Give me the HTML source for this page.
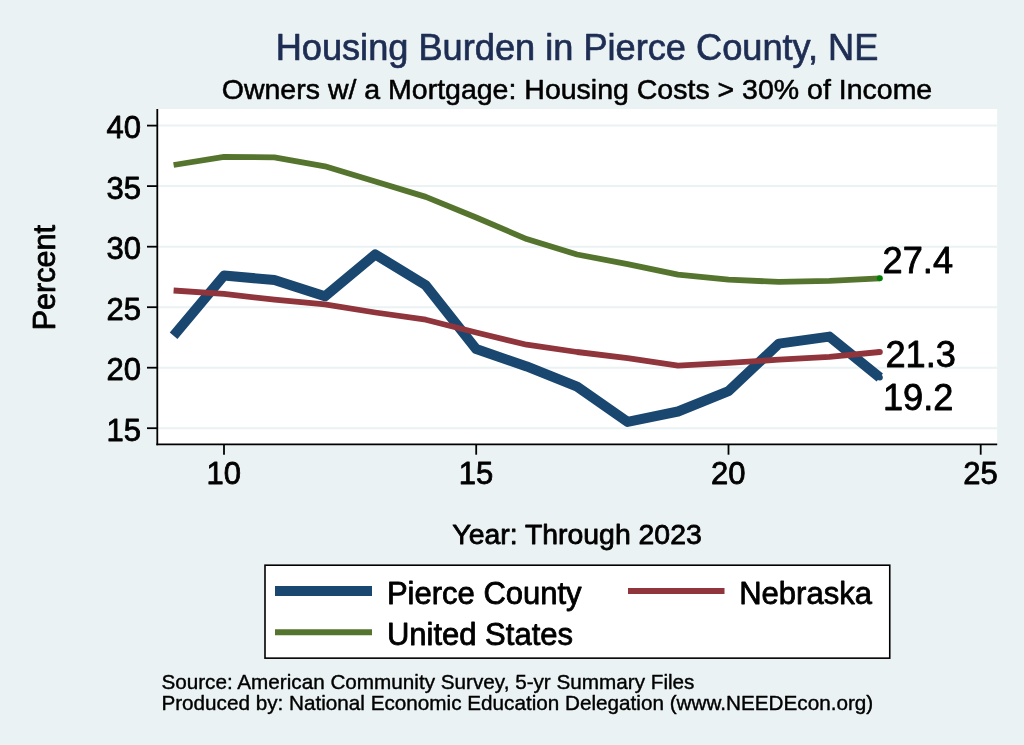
<!DOCTYPE html>
<html lang="en">
<head>
<meta charset="utf-8">
<title>Housing Burden in Pierce County, NE</title>
<style>
html,body{margin:0;padding:0;background:#eaf2f3;}
body{width:1024px;height:745px;overflow:hidden;}
svg{display:block;}
text{font-family:"Liberation Sans",Arial,Helvetica,sans-serif;stroke-linejoin:round;}
</style>
</head>
<body>
<svg width="1024" height="745" viewBox="0 0 1024 745">
<rect x="0" y="0" width="1024" height="745" fill="#eaf2f3"/>
<rect x="157" y="109" width="840.2" height="335" fill="#ffffff"/>
<line x1="158" x2="997.2" y1="125.6" y2="125.6" stroke="#eaf2f3" stroke-width="2"/>
<line x1="158" x2="997.2" y1="186.1" y2="186.1" stroke="#eaf2f3" stroke-width="2"/>
<line x1="158" x2="997.2" y1="246.7" y2="246.7" stroke="#eaf2f3" stroke-width="2"/>
<line x1="158" x2="997.2" y1="307.2" y2="307.2" stroke="#eaf2f3" stroke-width="2"/>
<line x1="158" x2="997.2" y1="367.7" y2="367.7" stroke="#eaf2f3" stroke-width="2"/>
<line x1="158" x2="997.2" y1="428.2" y2="428.2" stroke="#eaf2f3" stroke-width="2"/>
<polyline fill="none" stroke="#1a476f" stroke-width="10" stroke-linejoin="round" points="173.6,335.8 224.0,275.6 274.4,280.0 324.9,296.3 375.3,254.4 425.8,285.3 476.2,349.1 526.7,366.4 577.1,386.6 627.6,421.9 678.0,411.5 728.5,391.2 778.9,343.6 829.4,336.6 879.8,377.5"/>
<polyline fill="none" stroke="#90353b" stroke-width="5.8" stroke-linejoin="round" points="173.6,290.5 224.0,293.9 274.4,299.7 324.9,304.4 375.3,312.5 425.8,319.7 476.2,332.5 526.7,344.7 577.1,352.0 627.6,358.1 678.0,365.6 728.5,362.8 778.9,359.7 829.4,356.9 879.8,352.0"/>
<polyline fill="none" stroke="#55752f" stroke-width="5.8" stroke-linejoin="round" points="173.6,165.0 224.0,156.9 274.4,157.3 324.9,166.3 375.3,181.6 425.8,196.9 476.2,217.5 526.7,239.1 577.1,254.5 627.6,264.2 678.0,274.7 728.5,279.7 778.9,281.9 829.4,280.8 879.8,278.3"/>
<circle cx="879.8" cy="377.5" r="3" fill="#1a476f"/>
<circle cx="879.8" cy="352" r="3" fill="#90353b"/>
<circle cx="879.8" cy="278.3" r="3" fill="#008000"/>
<line x1="157.3" x2="157.3" y1="109" y2="445.3" stroke="#000" stroke-width="1.8"/>
<line x1="156.4" x2="997.2" y1="444.4" y2="444.4" stroke="#000" stroke-width="1.8"/>
<line x1="147" x2="157" y1="125.6" y2="125.6" stroke="#000" stroke-width="1.8"/>
<line x1="147" x2="157" y1="186.1" y2="186.1" stroke="#000" stroke-width="1.8"/>
<line x1="147" x2="157" y1="246.7" y2="246.7" stroke="#000" stroke-width="1.8"/>
<line x1="147" x2="157" y1="307.2" y2="307.2" stroke="#000" stroke-width="1.8"/>
<line x1="147" x2="157" y1="367.7" y2="367.7" stroke="#000" stroke-width="1.8"/>
<line x1="147" x2="157" y1="428.2" y2="428.2" stroke="#000" stroke-width="1.8"/>
<line x1="224.0" x2="224.0" y1="444" y2="454.7" stroke="#000" stroke-width="1.8"/>
<line x1="476.2" x2="476.2" y1="444" y2="454.7" stroke="#000" stroke-width="1.8"/>
<line x1="728.5" x2="728.5" y1="444" y2="454.7" stroke="#000" stroke-width="1.8"/>
<line x1="980.7" x2="980.7" y1="444" y2="454.7" stroke="#000" stroke-width="1.8"/>
<text transform="translate(141.0,138.0)" font-size="31" text-anchor="end" fill="#000" stroke="#000" stroke-width="0.8">40</text>
<text transform="translate(141.0,198.5)" font-size="31" text-anchor="end" fill="#000" stroke="#000" stroke-width="0.8">35</text>
<text transform="translate(141.0,259.1)" font-size="31" text-anchor="end" fill="#000" stroke="#000" stroke-width="0.8">30</text>
<text transform="translate(141.0,319.6)" font-size="31" text-anchor="end" fill="#000" stroke="#000" stroke-width="0.8">25</text>
<text transform="translate(141.0,380.1)" font-size="31" text-anchor="end" fill="#000" stroke="#000" stroke-width="0.8">20</text>
<text transform="translate(141.0,440.6)" font-size="31" text-anchor="end" fill="#000" stroke="#000" stroke-width="0.8">15</text>
<text transform="translate(223.7,483.8)" font-size="31" text-anchor="middle" fill="#000" stroke="#000" stroke-width="0.8">10</text>
<text transform="translate(475.9,483.8)" font-size="31" text-anchor="middle" fill="#000" stroke="#000" stroke-width="0.8">15</text>
<text transform="translate(728.2,483.8)" font-size="31" text-anchor="middle" fill="#000" stroke="#000" stroke-width="0.8">20</text>
<text transform="translate(980.4,483.8)" font-size="31" text-anchor="middle" fill="#000" stroke="#000" stroke-width="0.8">25</text>
<text transform="translate(577,60.0)" font-size="36.2" text-anchor="middle" fill="#1e2d53" stroke="#1e2d53" stroke-width="0.7">Housing Burden in Pierce County, NE</text>
<text transform="translate(577,98.6)" font-size="28.5" text-anchor="middle" fill="#000" stroke="#000" stroke-width="0.55">Owners w/ a Mortgage: Housing Costs &gt; 30% of Income</text>
<text transform="translate(54.9,277.6) rotate(-90)" font-size="30.6" text-anchor="middle" fill="#000" stroke="#000" stroke-width="0.8">Percent</text>
<text transform="translate(577,543.7)" font-size="28.4" text-anchor="middle" fill="#000" stroke="#000" stroke-width="0.8">Year: Through 2023</text>
<text transform="translate(882.6,273) scale(1,1.02)" font-size="36.2" fill="#000" stroke="#000" stroke-width="0.8">27.4</text>
<text transform="translate(885.4,366.8) scale(1,1.02)" font-size="36.2" fill="#000" stroke="#000" stroke-width="0.8">21.3</text>
<text transform="translate(883.0,410.4) scale(1,1.02)" font-size="36.2" fill="#000" stroke="#000" stroke-width="0.8">19.2</text>
<rect x="265" y="565.2" width="624.75" height="92.95" fill="#ffffff" stroke="#000" stroke-width="1.6"/>
<line x1="275" x2="372" y1="591.05" y2="591.05" stroke="#1a476f" stroke-width="10"/>
<line x1="628" x2="724.5" y1="591.05" y2="591.05" stroke="#90353b" stroke-width="6"/>
<line x1="275" x2="372" y1="632.3" y2="632.3" stroke="#55752f" stroke-width="6"/>
<text transform="translate(386.9,604.4)" font-size="31" fill="#000" stroke="#000" stroke-width="0.8">Pierce County</text>
<text transform="translate(739.2,604.4)" font-size="31" fill="#000" stroke="#000" stroke-width="0.8">Nebraska</text>
<text transform="translate(386.9,644.8)" font-size="31" fill="#000" stroke="#000" stroke-width="0.8">United States</text>
<text transform="translate(161.4,688.9)" font-size="20.7" fill="#000" stroke="#000" stroke-width="0.4">Source: American Community Survey, 5-yr Summary Files</text>
<text transform="translate(161.4,709.9)" font-size="20.7" fill="#000" stroke="#000" stroke-width="0.4">Produced by: National Economic Education Delegation (www.NEEDEcon.org)</text>
</svg>
</body>
</html>
